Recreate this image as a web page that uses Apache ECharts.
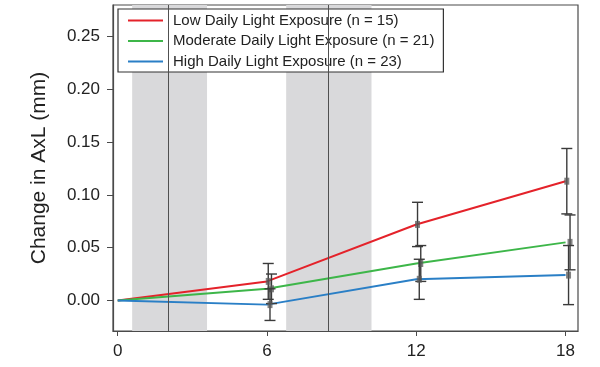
<!DOCTYPE html>
<html>
<head>
<meta charset="utf-8">
<script src="https://cdn.jsdelivr.net/npm/echarts@6/dist/echarts.min.js"></script>
<style>html,body{margin:0;padding:0;background:#fff;}#c{width:600px;height:367px;}</style>
</head>
<body>
<div id="c"></div>
<script>
// ---- data ----
var months = [0, 6, 12, 18];
var xTicks = [0, 6, 12, 18];
var yTicks = [0, 0.05, 0.10, 0.15, 0.20, 0.25];
var seriesNames = [
  'Low Daily Light Exposure (n = 15)',
  'Moderate Daily Light Exposure (n = 21)',
  'High Daily Light Exposure (n = 23)'
];
var lowMean = [0, 0.018, 0.072, 0.113];
var lowErr = [0, 0.017, 0.021, 0.031];
var modMean = [0, 0.011, 0.035, 0.055];
var modErr = [0, 0.014, 0.017, 0.026];
var highMean = [0, -0.004, 0.020, 0.024];
var highErr = [0, 0.015, 0.019, 0.028];
var shadedBands = [[0.58, 3.59], [6.77, 10.2]];
var bandLines = [2.04, 8.46];

// ---- styles ----
var colors = ['#e4222a', '#3db649', '#2a7fc6'];
var dodge = [0.05, 0.18, 0.12];
var means = [lowMean, modMean, highMean];
var errs = [lowErr, modErr, highErr];
var axisColor = '#4a4a4a';
var font = 'Liberation Sans, Arial, sans-serif';

var series = [];
means.forEach(function (m, i) {
  var s = {
    name: seriesNames[i],
    type: 'line',
    data: months.map(function (x, j) { return [x, m[j]]; }),
    symbol: 'none',
    lineStyle: { color: colors[i], width: 2 },
    itemStyle: { color: colors[i] },
    z: 3
  };
  if (i === 0) {
    s.markArea = {
      silent: true,
      itemStyle: { color: '#d9d9db' },
      data: shadedBands.map(function (b) { return [{ xAxis: b[0] }, { xAxis: b[1] }]; })
    };
    s.markLine = {
      silent: true,
      symbol: 'none',
      label: { show: false },
      lineStyle: { color: '#505050', width: 1, type: 'solid' },
      data: bandLines.map(function (v) { return { xAxis: v }; })
    };
  }
  series.push(s);
});
// error bars
means.forEach(function (m, i) {
  var pts = [];
  months.forEach(function (x, j) {
    if (errs[i][j] > 0) pts.push([x, m[j], m[j] - errs[i][j], m[j] + errs[i][j]]);
  });
  series.push({
    type: 'custom',
    name: 'err' + i,
    data: pts,
    z: 5,
    silent: true,
    renderItem: function (params, api) {
      var x = api.value(0) + dodge[i];
      var c = api.coord([x, api.value(1)]);
      var lo = api.coord([x, api.value(2)]);
      var hi = api.coord([x, api.value(3)]);
      var hw = 5.5;
      var st = { stroke: '#3a3a3a', lineWidth: 1.4 };
      return {
        type: 'group',
        children: [
          { type: 'line', shape: { x1: c[0], y1: lo[1], x2: c[0], y2: hi[1] }, style: st },
          { type: 'line', shape: { x1: c[0] - hw, y1: lo[1], x2: c[0] + hw, y2: lo[1] }, style: st },
          { type: 'line', shape: { x1: c[0] - hw, y1: hi[1], x2: c[0] + hw, y2: hi[1] }, style: st },
          { type: 'rect', shape: { x: c[0] - 2.5, y: c[1] - 3.5, width: 5, height: 7 }, style: { fill: 'rgba(90,90,90,0.75)' } }
        ]
      };
    }
  });
});

var chart = echarts.init(document.getElementById('c'));
chart.setOption({
  animation: false,
  backgroundColor: '#fff',
  textStyle: { fontFamily: font },
  grid: {
    left: 113, right: 22, top: 5, bottom: 36,
    show: true, borderColor: axisColor, borderWidth: 1.2, backgroundColor: 'transparent'
  },
  legend: {
    show: true,
    data: seriesNames,
    orient: 'vertical',
    left: 118, top: 9,
    padding: [4, 9, 3, 10],
    itemGap: 5.5,
    itemWidth: 35, itemHeight: 14,
    borderColor: '#333', borderWidth: 1.2,
    backgroundColor: '#fff',
    textStyle: { fontSize: 15, color: '#222', fontFamily: font, padding: [0, 0, 0, 5] },
    icon: 'path://M0,6 L35,6 L35,8 L0,8 Z'
  },
  xAxis: {
    type: 'value',
    min: -0.19, max: 18.5,
    splitLine: { show: false },
    axisLine: { show: true, onZero: false, lineStyle: { color: axisColor, width: 1.2 } },
    axisTick: { show: true, length: 5, customValues: xTicks, lineStyle: { color: axisColor } },
    axisLabel: { customValues: xTicks, fontSize: 17, color: '#222', margin: 12, fontFamily: font }
  },
  yAxis: {
    type: 'value',
    min: -0.029, max: 0.28,
    name: 'Change in AxL (mm)',
    nameLocation: 'middle',
    nameGap: 63,
    nameTextStyle: { fontSize: 21, color: '#222', fontFamily: font },
    splitLine: { show: false },
    axisLine: { show: true, onZero: false, lineStyle: { color: axisColor, width: 1.2 } },
    axisTick: { show: true, length: 6, customValues: yTicks, lineStyle: { color: axisColor } },
    axisLabel: {
      customValues: yTicks, fontSize: 17, color: '#222', margin: 13, fontFamily: font,
      formatter: function (v) { return v.toFixed(2); }
    }
  },
  series: series
});
</script>
</body>
</html>
